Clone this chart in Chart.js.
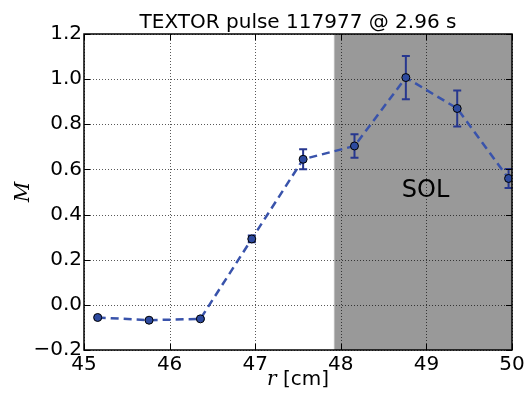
<!DOCTYPE html>
<html>
<head>
<meta charset="utf-8">
<script src="https://cdn.jsdelivr.net/npm/chart.js@4"></script>
<style>
  html, body { margin: 0; padding: 0; background: #fff; }
  #wrap { width: 532px; height: 394px; }
</style>
</head>
<body>
<div id="wrap"><canvas id="chart" width="532" height="394"></canvas></div>
<script>
// radial positions [cm] and measured M with error bars
const radius = [45.16, 45.76, 46.36, 46.96, 47.56, 48.16, 48.76, 49.36, 49.96];
const mValues = [-0.056, -0.068, -0.062, 0.292, 0.645, 0.704, 1.007, 0.870, 0.560];
const mErrors = [0.004, 0.004, 0.004, 0.015, 0.044, 0.052, 0.096, 0.080, 0.042];
const xTicks = [45, 46, 47, 48, 49, 50];
const yTicks = [-0.2, 0.0, 0.2, 0.4, 0.6, 0.8, 1.0, 1.2];
const solStart = 47.92;
const solEnd = 50;

const tickFont = { family: 'DejaVu Sans', size: 20 };

const decorPlugin = {
    id: 'decor',
    beforeDatasetsDraw(chart) {
        const { ctx, chartArea: a, scales: { x, y } } = chart;
        ctx.save();
        // SOL shaded region
        const x0 = x.getPixelForValue(solStart);
        const x1 = x.getPixelForValue(solEnd);
        ctx.fillStyle = '#999999';
        ctx.fillRect(x0, a.top, x1 - x0, a.bottom - a.top);
        ctx.strokeStyle = '#bdbdbd';
        ctx.lineWidth = 1;
        ctx.beginPath();
        ctx.moveTo(x0 + 0.5, a.top);
        ctx.lineTo(x0 + 0.5, a.bottom);
        ctx.stroke();

        // dotted grid
        ctx.strokeStyle = 'rgba(0,0,0,0.65)';
        ctx.setLineDash([1, 2]);
        xTicks.forEach(v => {
            const px = Math.round(x.getPixelForValue(v)) + 0.5;
            ctx.beginPath();
            ctx.moveTo(px, a.top);
            ctx.lineTo(px, a.bottom);
            ctx.stroke();
        });
        yTicks.forEach(v => {
            const py = Math.round(y.getPixelForValue(v)) + 0.5;
            ctx.beginPath();
            ctx.moveTo(a.left, py);
            ctx.lineTo(a.right, py);
            ctx.stroke();
        });
        ctx.setLineDash([]);

        // SOL label
        ctx.fillStyle = '#000';
        ctx.font = '24px "DejaVu Sans"';
        ctx.textAlign = 'center';
        ctx.textBaseline = 'middle';
        ctx.fillText('SOL', x.getPixelForValue(48.99), y.getPixelForValue(0.505));

        // error bars
        ctx.strokeStyle = '#27378f';
        ctx.lineWidth = 2;
        radius.forEach((r, i) => {
            const px = x.getPixelForValue(r);
            const yt = y.getPixelForValue(mValues[i] + mErrors[i]);
            const yb = y.getPixelForValue(mValues[i] - mErrors[i]);
            ctx.beginPath();
            ctx.moveTo(px, yt);
            ctx.lineTo(px, yb);
            ctx.moveTo(px - 4, yt);
            ctx.lineTo(px + 4, yt);
            ctx.moveTo(px - 4, yb);
            ctx.lineTo(px + 4, yb);
            ctx.stroke();
        });
        ctx.restore();
    },
    afterDraw(chart) {
        const { ctx, chartArea: a, scales: { x, y } } = chart;
        ctx.save();
        // frame
        ctx.strokeStyle = '#000';
        ctx.lineWidth = 1.5;
        ctx.strokeRect(a.left, a.top, a.right - a.left, a.bottom - a.top);

        // inward ticks on all four sides
        ctx.lineWidth = 1;
        xTicks.forEach(v => {
            const px = Math.round(x.getPixelForValue(v)) + 0.5;
            ctx.beginPath();
            ctx.moveTo(px, a.bottom);
            ctx.lineTo(px, a.bottom - 6);
            ctx.moveTo(px, a.top);
            ctx.lineTo(px, a.top + 6);
            ctx.stroke();
        });
        yTicks.forEach(v => {
            const py = Math.round(y.getPixelForValue(v)) + 0.5;
            ctx.beginPath();
            ctx.moveTo(a.left, py);
            ctx.lineTo(a.left + 6, py);
            ctx.moveTo(a.right, py);
            ctx.lineTo(a.right - 6, py);
            ctx.stroke();
        });

        // title
        ctx.fillStyle = '#000';
        ctx.font = '20px "DejaVu Sans"';
        ctx.textAlign = 'center';
        ctx.textBaseline = 'alphabetic';
        ctx.fillText('TEXTOR pulse 117977 @ 2.96 s', (a.left + a.right) / 2, 28);

        // x axis label: italic r + [cm]
        const cx = (a.left + a.right) / 2;
        ctx.font = 'italic 20px "DejaVu Serif"';
        const rW = ctx.measureText('r').width;
        ctx.font = '20px "DejaVu Sans"';
        const cmW = ctx.measureText(' [cm]').width;
        const startX = cx - (rW + cmW) / 2;
        ctx.textAlign = 'left';
        ctx.font = 'italic 20px "DejaVu Serif"';
        ctx.fillText('r', startX, 385);
        ctx.font = '20px "DejaVu Sans"';
        ctx.fillText(' [cm]', startX + rW, 385);

        // y axis label: italic M
        ctx.translate(29, (a.top + a.bottom) / 2);
        ctx.rotate(-Math.PI / 2);
        ctx.textAlign = 'center';
        ctx.font = 'italic 20px "DejaVu Serif"';
        ctx.fillText('M', 0, 0);
        ctx.restore();
    }
};

new Chart(document.getElementById('chart'), {
    type: 'scatter',
    data: {
        datasets: [{
            data: radius.map((r, i) => ({ x: r, y: mValues[i] })),
            showLine: true,
            borderColor: '#3953ab',
            borderWidth: 2.5,
            borderDash: [8, 5],
            pointRadius: 4,
            pointBackgroundColor: '#2d4a9f',
            pointBorderColor: '#000',
            pointBorderWidth: 1
        }]
    },
    options: {
        responsive: false,
        animation: false,
        layout: { padding: { top: 34, right: 20, left: 0, bottom: 0 } },
        plugins: {
            legend: { display: false },
            tooltip: { enabled: false },
            title: { display: false }
        },
        scales: {
            x: {
                type: 'linear',
                min: 45,
                max: 50,
                afterFit: s => { s.height = 44; },
                afterBuildTicks: s => { s.ticks = xTicks.map(v => ({ value: v })); },
                grid: { display: false, drawTicks: false },
                border: { display: false },
                ticks: {
                    color: '#000',
                    font: tickFont,
                    padding: 3,
                    maxRotation: 0,
                    callback: v => String(v)
                }
            },
            y: {
                type: 'linear',
                min: -0.2,
                max: 1.2,
                afterFit: s => { s.width = 84; },
                afterBuildTicks: s => { s.ticks = yTicks.map(v => ({ value: v })); },
                grid: { display: false, drawTicks: false },
                border: { display: false },
                ticks: {
                    color: '#000',
                    font: tickFont,
                    padding: 2,
                    callback: v => v.toFixed(1).replace('-', '\u2212')
                }
            }
        }
    },
    plugins: [decorPlugin]
});
</script>
</body>
</html>
